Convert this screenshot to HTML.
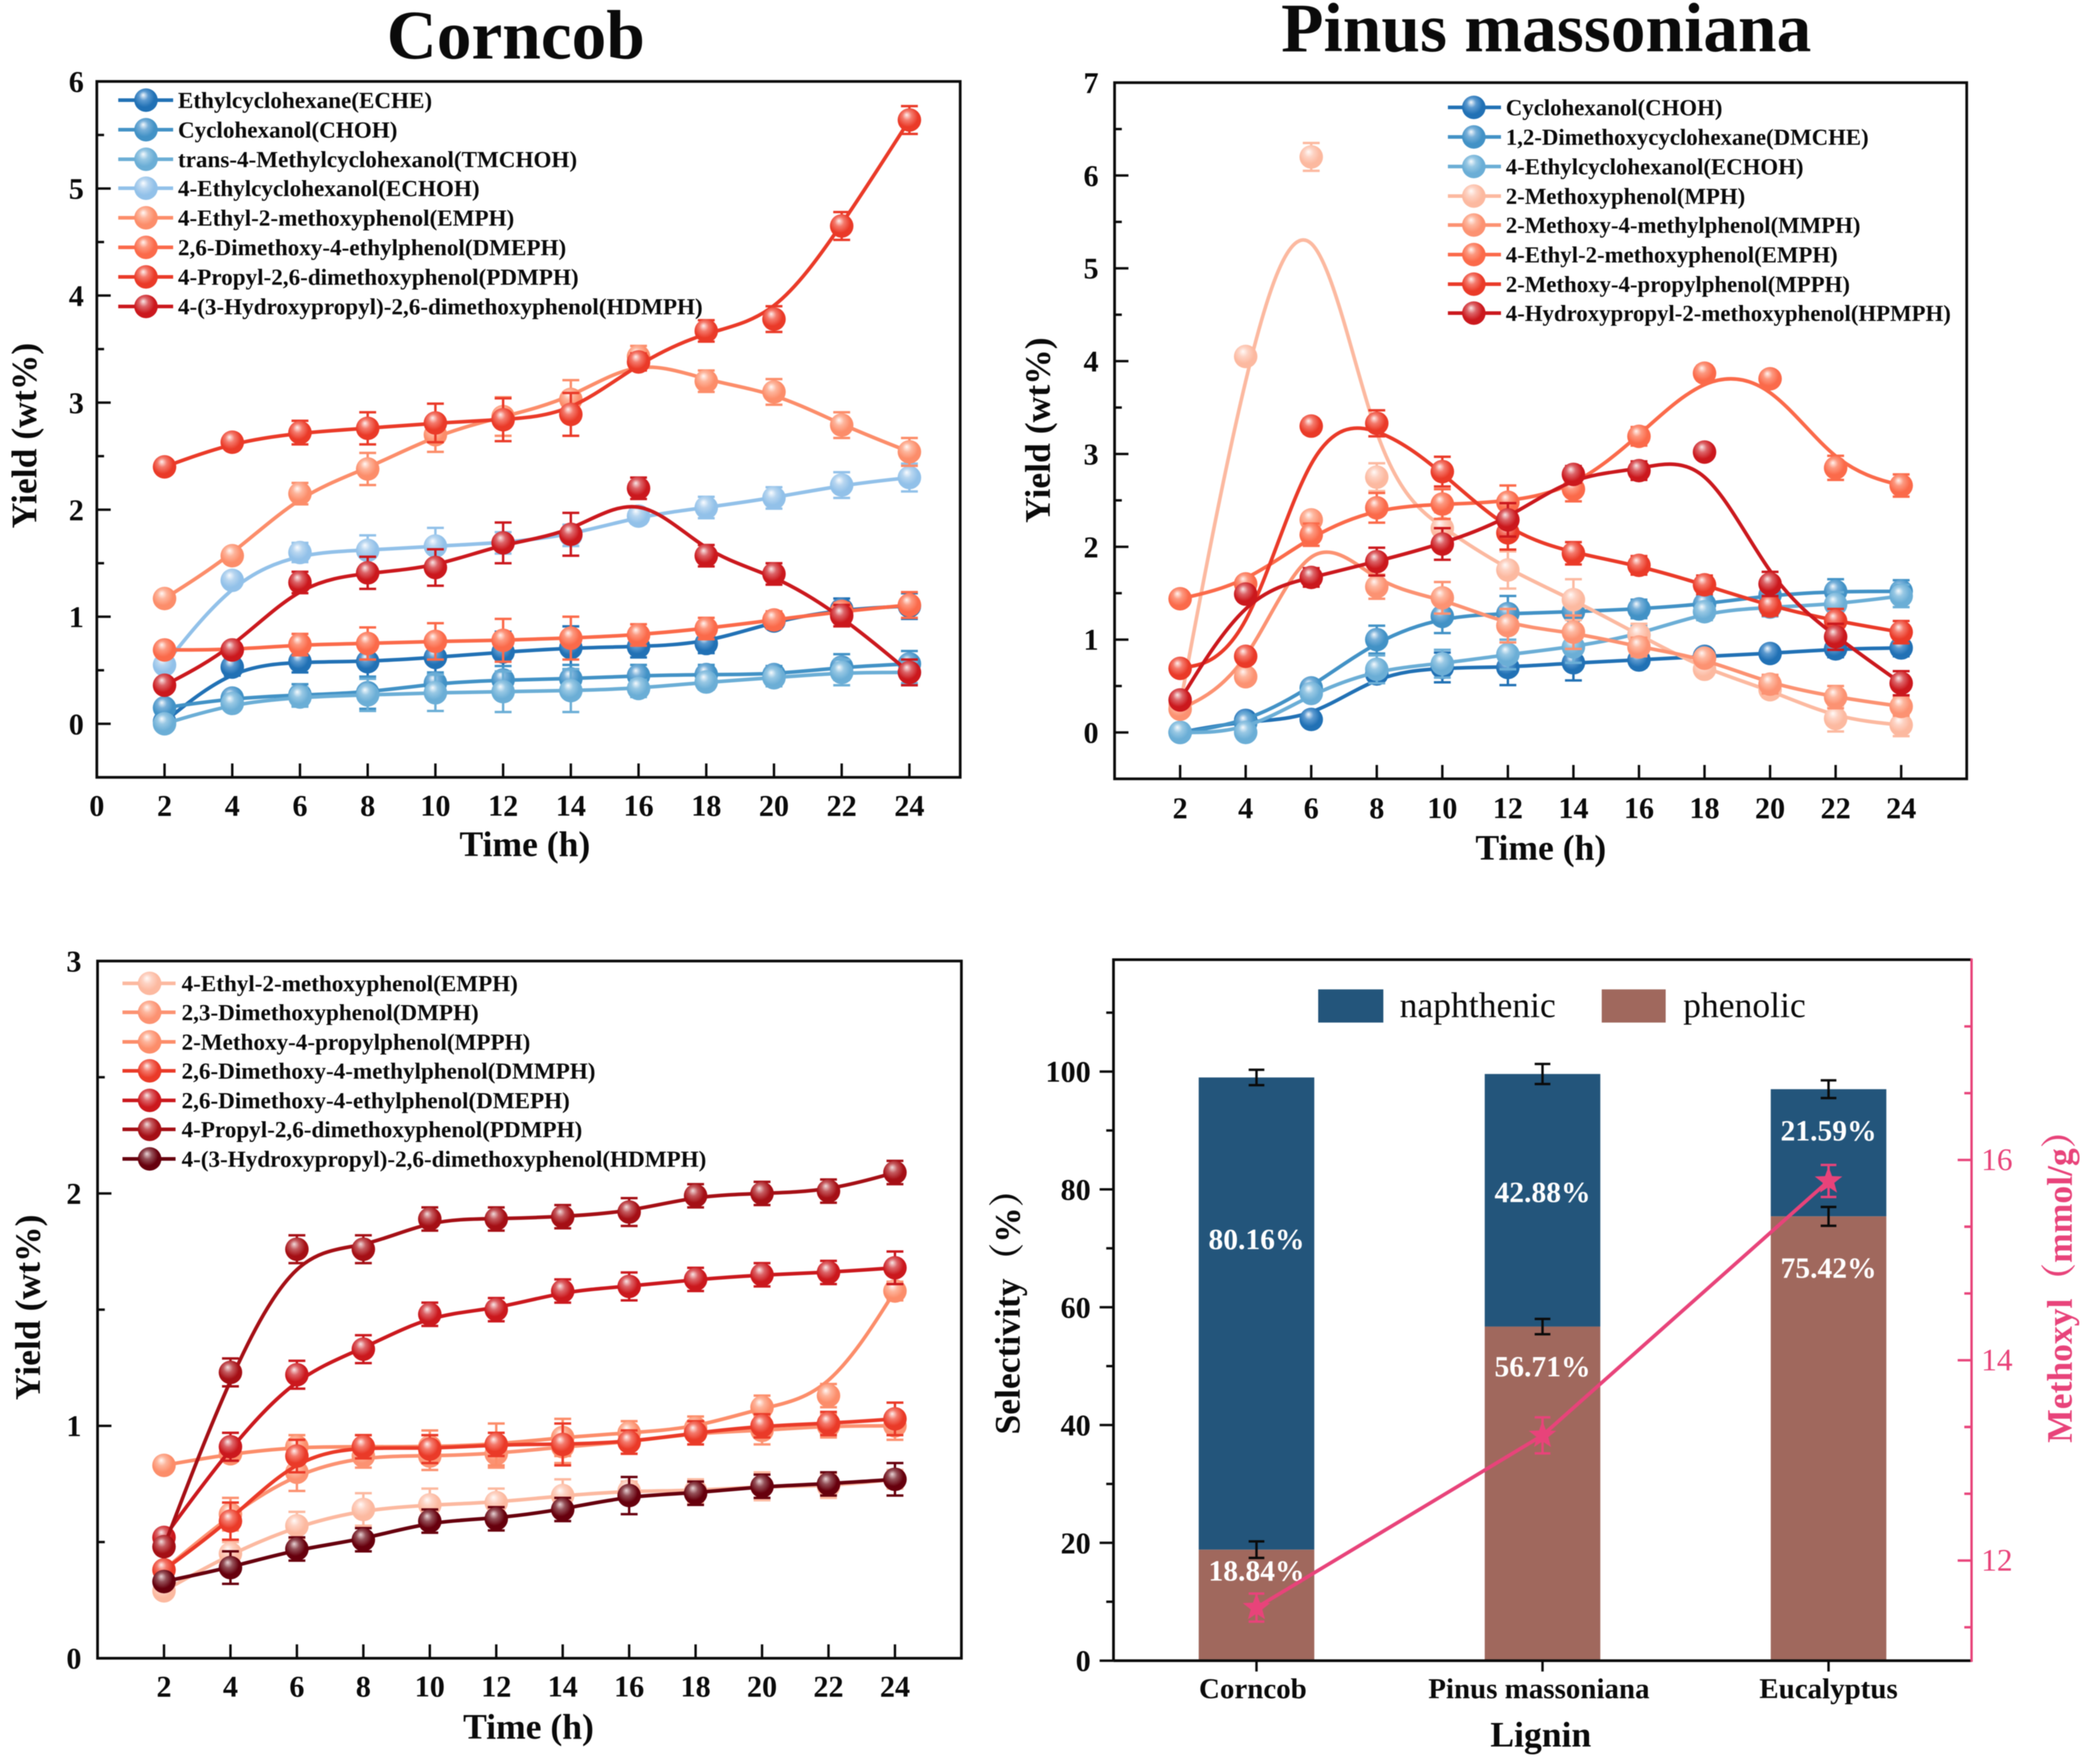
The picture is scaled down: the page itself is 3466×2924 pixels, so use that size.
<!DOCTYPE html>
<html lang="en">
<head>
<meta charset="utf-8">
<title>Lignin depolymerization yields and selectivity</title>
<style>
html,body{margin:0;padding:0;background:#fff;}
svg{display:block;filter:blur(0.7px);}
text{font-family:"Liberation Serif","Noto Serif CJK SC",serif;fill:#0a0a0a;}
.b{font-weight:bold;}
.leg{font-weight:bold;font-size:38px;}
.la .leg{font-size:38.3px;}
.lb .leg{font-size:37.8px;}
.title{font-weight:bold;font-size:115px;text-anchor:middle;}
.axt{font-weight:bold;font-size:59px;text-anchor:middle;}
</style>
</head>
<body>
<svg id="fig" xmlns="http://www.w3.org/2000/svg" width="3466" height="2924" viewBox="0 0 3466 2924">
<defs>
<radialGradient id="g1" cx=".45" cy=".4" r=".62" fx=".38" fy=".28"><stop offset="0" stop-color="#f4f8fc"/><stop offset=".32" stop-color="#5c9ad0"/><stop offset=".7" stop-color="#2171b5"/></radialGradient>
<radialGradient id="g2" cx=".45" cy=".4" r=".62" fx=".38" fy=".28"><stop offset="0" stop-color="#f4f8fc"/><stop offset=".32" stop-color="#78b0d9"/><stop offset=".7" stop-color="#4292c6"/></radialGradient>
<radialGradient id="g3" cx=".45" cy=".4" r=".62" fx=".38" fy=".28"><stop offset="0" stop-color="#f6fafd"/><stop offset=".32" stop-color="#98c8e4"/><stop offset=".7" stop-color="#6baed6"/></radialGradient>
<radialGradient id="g4" cx=".45" cy=".4" r=".62" fx=".38" fy=".28"><stop offset="0" stop-color="#fafcff"/><stop offset=".32" stop-color="#b8d6f0"/><stop offset=".7" stop-color="#92c1e9"/></radialGradient>
<radialGradient id="g5" cx=".45" cy=".4" r=".62" fx=".38" fy=".28"><stop offset="0" stop-color="#fff8f5"/><stop offset=".32" stop-color="#fdb59c"/><stop offset=".7" stop-color="#fc8d6a"/></radialGradient>
<radialGradient id="g6" cx=".45" cy=".4" r=".62" fx=".38" fy=".28"><stop offset="0" stop-color="#fff4f0"/><stop offset=".32" stop-color="#fc987f"/><stop offset=".7" stop-color="#fb6a4a"/></radialGradient>
<radialGradient id="g7" cx=".45" cy=".4" r=".62" fx=".38" fy=".28"><stop offset="0" stop-color="#fdf0ee"/><stop offset=".32" stop-color="#f47a6c"/><stop offset=".7" stop-color="#ea3a28"/></radialGradient>
<radialGradient id="g8" cx=".45" cy=".4" r=".62" fx=".38" fy=".28"><stop offset="0" stop-color="#f8e8e8"/><stop offset=".32" stop-color="#dc6468"/><stop offset=".7" stop-color="#cb181d"/></radialGradient>
<radialGradient id="g9" cx=".45" cy=".4" r=".62" fx=".38" fy=".28"><stop offset="0" stop-color="#fffaf8"/><stop offset=".32" stop-color="#fdd3c4"/><stop offset=".7" stop-color="#fcb9a0"/></radialGradient>
<radialGradient id="g10" cx=".45" cy=".4" r=".62" fx=".38" fy=".28"><stop offset="0" stop-color="#fff6f3"/><stop offset=".32" stop-color="#fdb8a0"/><stop offset=".7" stop-color="#fc9272"/></radialGradient>
<radialGradient id="g12" cx=".45" cy=".4" r=".62" fx=".38" fy=".28"><stop offset="0" stop-color="#f0dcdc"/><stop offset=".32" stop-color="#c45a5e"/><stop offset=".7" stop-color="#a50f15"/></radialGradient>
<radialGradient id="g13" cx=".45" cy=".4" r=".62" fx=".38" fy=".28"><stop offset="0" stop-color="#e8d4d6"/><stop offset=".32" stop-color="#945058"/><stop offset=".7" stop-color="#67000d"/></radialGradient>
</defs>

<g id="panelA"></g>
<g id="panelB"></g>
<g id="panelC"></g>
<g id="panelD"></g>

<text class="title" x="855" y="97">Corncob</text>
<text class="title" x="2563" y="85">Pinus massoniana</text>

<text class="axt" x="870" y="1419">Time (h)</text>
<text class="axt" transform="translate(60 722) rotate(-90)">Yield (wt%)</text>
<text class="axt" x="2554" y="1425">Time (h)</text>
<text class="axt" transform="translate(1740 713) rotate(-90)">Yield (wt%)</text>
<text class="axt" x="876" y="2882">Time (h)</text>
<text class="axt" transform="translate(66 2167) rotate(-90)">Yield (wt%)</text>
<text class="axt" x="2554" y="2895">Lignin</text>
<text class="axt" style="word-spacing:-14.75px" transform="translate(1690 2160) rotate(-90)">Selectivity （%）</text>
<text class="axt" style="fill:#e8437a" transform="translate(3434 2118) rotate(-90)">Methoxyl（mmol/g）</text>

<g class="la">
<g><line x1="196" x2="287" y1="166" y2="166" stroke="#2171b5" stroke-width="6"/><circle cx="242" cy="166" r="19.5" fill="url(#g1)"/><text class="leg" x="295" y="179">Ethylcyclohexane(ECHE)</text></g>
<g><line x1="196" x2="287" y1="215" y2="215" stroke="#4292c6" stroke-width="6"/><circle cx="242" cy="215" r="19.5" fill="url(#g2)"/><text class="leg" x="295" y="228">Cyclohexanol(CHOH)</text></g>
<g><line x1="196" x2="287" y1="264" y2="264" stroke="#6baed6" stroke-width="6"/><circle cx="242" cy="264" r="19.5" fill="url(#g3)"/><text class="leg" x="295" y="277">trans-4-Methylcyclohexanol(TMCHOH)</text></g>
<g><line x1="196" x2="287" y1="312" y2="312" stroke="#92c1e9" stroke-width="6"/><circle cx="242" cy="312" r="19.5" fill="url(#g4)"/><text class="leg" x="295" y="325">4-Ethylcyclohexanol(ECHOH)</text></g>
<g><line x1="196" x2="287" y1="361" y2="361" stroke="#fc8d6a" stroke-width="6"/><circle cx="242" cy="361" r="19.5" fill="url(#g5)"/><text class="leg" x="295" y="374">4-Ethyl-2-methoxyphenol(EMPH)</text></g>
<g><line x1="196" x2="287" y1="410" y2="410" stroke="#fb6a4a" stroke-width="6"/><circle cx="242" cy="410" r="19.5" fill="url(#g6)"/><text class="leg" x="295" y="423">2,6-Dimethoxy-4-ethylphenol(DMEPH)</text></g>
<g><line x1="196" x2="287" y1="459" y2="459" stroke="#ea3a28" stroke-width="6"/><circle cx="242" cy="459" r="19.5" fill="url(#g7)"/><text class="leg" x="295" y="472">4-Propyl-2,6-dimethoxyphenol(PDMPH)</text></g>
<g><line x1="196" x2="287" y1="508" y2="508" stroke="#cb181d" stroke-width="6"/><circle cx="242" cy="508" r="19.5" fill="url(#g8)"/><text class="leg" x="295" y="521">4-(3-Hydroxypropyl)-2,6-dimethoxyphenol(HDMPH)</text></g>
</g>

<g class="lb">
<g><line x1="2400" x2="2488" y1="178" y2="178" stroke="#2171b5" stroke-width="6"/><circle cx="2443" cy="178" r="19.5" fill="url(#g1)"/><text class="leg" x="2496" y="191">Cyclohexanol(CHOH)</text></g>
<g><line x1="2400" x2="2488" y1="227" y2="227" stroke="#4292c6" stroke-width="6"/><circle cx="2443" cy="227" r="19.5" fill="url(#g2)"/><text class="leg" x="2496" y="240">1,2-Dimethoxycyclohexane(DMCHE)</text></g>
<g><line x1="2400" x2="2488" y1="276" y2="276" stroke="#6baed6" stroke-width="6"/><circle cx="2443" cy="276" r="19.5" fill="url(#g3)"/><text class="leg" x="2496" y="289">4-Ethylcyclohexanol(ECHOH)</text></g>
<g><line x1="2400" x2="2488" y1="325" y2="325" stroke="#fcb9a0" stroke-width="6"/><circle cx="2443" cy="325" r="19.5" fill="url(#g9)"/><text class="leg" x="2496" y="338">2-Methoxyphenol(MPH)</text></g>
<g><line x1="2400" x2="2488" y1="373" y2="373" stroke="#fc9272" stroke-width="6"/><circle cx="2443" cy="373" r="19.5" fill="url(#g10)"/><text class="leg" x="2496" y="386">2-Methoxy-4-methylphenol(MMPH)</text></g>
<g><line x1="2400" x2="2488" y1="422" y2="422" stroke="#fb6a4a" stroke-width="6"/><circle cx="2443" cy="422" r="19.5" fill="url(#g6)"/><text class="leg" x="2496" y="435">4-Ethyl-2-methoxyphenol(EMPH)</text></g>
<g><line x1="2400" x2="2488" y1="471" y2="471" stroke="#ea3a28" stroke-width="6"/><circle cx="2443" cy="471" r="19.5" fill="url(#g7)"/><text class="leg" x="2496" y="484">2-Methoxy-4-propylphenol(MPPH)</text></g>
<g><line x1="2400" x2="2488" y1="519" y2="519" stroke="#cb181d" stroke-width="6"/><circle cx="2443" cy="519" r="19.5" fill="url(#g8)"/><text class="leg" x="2496" y="532">4-Hydroxypropyl-2-methoxyphenol(HPMPH)</text></g>
</g>

<g class="la">
<g><line x1="203" x2="291" y1="1630" y2="1630" stroke="#fcb9a0" stroke-width="6"/><circle cx="248" cy="1630" r="19.5" fill="url(#g9)"/><text class="leg" x="301" y="1643">4-Ethyl-2-methoxyphenol(EMPH)</text></g>
<g><line x1="203" x2="291" y1="1678" y2="1678" stroke="#fc9272" stroke-width="6"/><circle cx="248" cy="1678" r="19.5" fill="url(#g10)"/><text class="leg" x="301" y="1691">2,3-Dimethoxyphenol(DMPH)</text></g>
<g><line x1="203" x2="291" y1="1727" y2="1727" stroke="#fc8d6a" stroke-width="6"/><circle cx="248" cy="1727" r="19.5" fill="url(#g5)"/><text class="leg" x="301" y="1740">2-Methoxy-4-propylphenol(MPPH)</text></g>
<g><line x1="203" x2="291" y1="1775" y2="1775" stroke="#ea3a28" stroke-width="6"/><circle cx="248" cy="1775" r="19.5" fill="url(#g7)"/><text class="leg" x="301" y="1788">2,6-Dimethoxy-4-methylphenol(DMMPH)</text></g>
<g><line x1="203" x2="291" y1="1824" y2="1824" stroke="#cb181d" stroke-width="6"/><circle cx="248" cy="1824" r="19.5" fill="url(#g8)"/><text class="leg" x="301" y="1837">2,6-Dimethoxy-4-ethylphenol(DMEPH)</text></g>
<g><line x1="203" x2="291" y1="1872" y2="1872" stroke="#a50f15" stroke-width="6"/><circle cx="248" cy="1872" r="19.5" fill="url(#g12)"/><text class="leg" x="301" y="1885">4-Propyl-2,6-dimethoxyphenol(PDMPH)</text></g>
<g><line x1="203" x2="291" y1="1921" y2="1921" stroke="#67000d" stroke-width="6"/><circle cx="248" cy="1921" r="19.5" fill="url(#g13)"/><text class="leg" x="301" y="1934">4-(3-Hydroxypropyl)-2,6-dimethoxyphenol(HDMPH)</text></g>
</g>

<g>
<g><rect x="2185" y="1640" width="108" height="55" fill="#23557b"/><text x="2320" y="1686" font-size="59">naphthenic</text></g>
<g><rect x="2655" y="1640" width="106" height="55" fill="#a0685d"/><text x="2790" y="1686" font-size="59">phenolic</text></g>
</g>

<script>
// ---------- shared time axis ----------
const timeHours = [2,4,6,8,10,12,14,16,18,20,22,24];

// ---------- corncob ----------
const corncobXTicks = [0,2,4,6,8,10,12,14,16,18,20,22,24];
const corncobYTicks = [0,1,2,3,4,5,6];
const corncobEche = [.02,.53,.58,.58,.62,.67,.71,.72,.75,.96,1.07,1.10];
const corncobEcheErr = [.03,.08,.1,.14,.16,.19,.2,.1,.09,.05,.1,.12];
const corncobChoh = [.15,.24,.27,.29,.38,.41,.42,.45,.46,.46,.53,.56];
const corncobChohErr = [.04,.06,.1,.15,.1,.13,.13,.1,.09,.08,.12,.12];
const corncobTmchoh = [0,.19,.25,.27,.29,.30,.31,.33,.39,.43,.48,.48];
const corncobTmchohErr = [.03,.05,.09,.15,.17,.19,.2,.08,.07,.08,.12,.1];
const corncobEchoh = [.55,1.34,1.60,1.62,1.66,1.69,1.76,1.94,2.02,2.11,2.23,2.30];
const corncobEchohErr = [.03,.04,.09,.14,.17,.1,.1,.07,.1,.1,.12,.13];
const corncobEmph = [1.17,1.57,2.15,2.38,2.70,2.87,3.03,3.43,3.20,3.10,2.79,2.54];
const corncobEmphErr = [.04,.05,.1,.15,.16,.18,.18,.1,.1,.12,.12,.13];
const corncobDmeph = [.69,.69,.74,.75,.77,.78,.80,.83,.89,.97,1.05,1.11];
const corncobDmephErr = [.03,.04,.1,.15,.17,.2,.2,.1,.1,.08,.08,.12];
const corncobPdmph = [2.40,2.63,2.72,2.76,2.81,2.84,2.89,3.38,3.67,3.78,4.65,5.64];
const corncobPdmphErr = [.03,.03,.11,.15,.18,.2,.2,.08,.1,.12,.13,.13];
const corncobHdmph = [.36,.69,1.32,1.41,1.46,1.69,1.77,2.20,1.57,1.40,1.01,.48];
const corncobHdmphErr = [.03,.04,.1,.15,.17,.19,.2,.1,.1,.1,.1,.12];

// ---------- pinus massoniana ----------
const pinusXTicks = [2,4,6,8,10,12,14,16,18,20,22,24];
const pinusYTicks = [0,1,2,3,4,5,6,7];
const pinusChoh = [0,.13,.14,.63,.70,.70,.75,.78,.82,.85,.90,.91];
const pinusChohErr = [.02,.03,.03,.07,.16,.19,.19,.08,.05,.07,.09,.09];
const pinusDmche = [0,.10,.48,1.0,1.25,1.28,1.30,1.33,1.38,1.48,1.52,1.52];
const pinusDmcheErr = [.02,.03,.07,.15,.18,.19,.2,.1,.09,.1,.13,.12];
const pinusEchoh = [0,0,.42,.68,.74,.84,.92,1.05,1.30,1.35,1.38,1.47];
const pinusEchohErr = [.02,.03,.07,.15,.15,.16,.17,.1,.09,.1,.13,.12];
const pinusMph = [.3,4.05,6.2,2.75,2.2,1.75,1.43,1.05,.68,.46,.15,.08];
const pinusMphErr = [.02,.03,.15,.15,.17,.2,.22,.12,.06,.08,.14,.12];
const pinusMmph = [.25,.60,2.29,1.57,1.45,1.15,1.08,.92,.80,.52,.38,.28];
const pinusMmphErr = [.02,.03,.04,.13,.17,.18,.18,.1,.07,.1,.12,.1];
const pinusEmph = [1.44,1.60,2.13,2.42,2.46,2.48,2.62,3.19,3.87,3.81,2.85,2.66];
const pinusEmphErr = [.04,.04,.12,.16,.16,.18,.13,.1,.08,.07,.13,.12];
const pinusMpph = [.69,.82,3.30,3.33,2.81,2.15,1.93,1.80,1.59,1.36,1.20,1.08];
const pinusMpphErr = [.03,.04,.08,.14,.16,.18,.12,.1,.1,.1,.13,.12];
const pinusHpmph = [.35,1.49,1.67,1.84,2.03,2.29,2.78,2.82,3.02,1.60,1.03,.53];
const pinusHpmphErr = [.03,.06,.1,.15,.17,.18,.09,.1,.03,.13,.14,.13];

// ---------- third feedstock, lower-left panel ----------
const lowerXTicks = [2,4,6,8,10,12,14,16,18,20,22,24];
const lowerYTicks = [0,1,2,3];
const lowerEmph = [.29,.45,.57,.64,.66,.67,.70,.72,.72,.74,.74,.77];
const lowerEmphErr = [.02,.05,.06,.07,.07,.06,.07,.04,.05,.06,.05,.04];
const lowerDmph = [.38,.62,.80,.87,.87,.88,.91,.93,.97,.98,1.00,1.00];
const lowerDmphErr = [.02,.07,.08,.05,.06,.06,.07,.05,.05,.06,.05,.06];
const lowerMpph = [.83,.88,.91,.91,.91,.92,.95,.97,.99,1.08,1.13,1.58];
const lowerMpphErr = [.02,.03,.05,.05,.07,.09,.08,.05,.05,.05,.05,.04];
const lowerDmmph = [.38,.59,.87,.91,.90,.92,.92,.93,.97,1.00,1.01,1.03];
const lowerDmmphErr = [.02,.08,.07,.05,.06,.05,.09,.05,.05,.05,.05,.07];
const lowerDmeph = [.52,.91,1.22,1.33,1.48,1.50,1.58,1.60,1.63,1.65,1.66,1.68];
const lowerDmephErr = [.02,.06,.06,.06,.05,.05,.05,.06,.05,.05,.05,.07];
const lowerPdmph = [.48,1.23,1.76,1.76,1.89,1.89,1.90,1.92,1.99,2.00,2.01,2.09];
const lowerPdmphErr = [.02,.06,.06,.06,.05,.05,.05,.06,.05,.05,.05,.05];
const lowerHdmph = [.33,.39,.47,.51,.59,.60,.64,.70,.71,.74,.75,.77];
const lowerHdmphErr = [.02,.07,.05,.05,.05,.05,.05,.08,.05,.05,.05,.07];

// ---------- selectivity / methoxyl ----------
const ligninCategories = ['Corncob','Pinus massoniana','Eucalyptus'];
const selectivityYTicks = [0,20,40,60,80,100];
const methoxylYTicks = [12,14,16];
const phenolicValues = [18.84,56.71,75.42];
const naphthenicValues = [80.16,42.88,21.59];
const phenolicErr = [1.4,1.3,1.6];
const totalErr = [1.3,1.7,1.5];
const methoxylValues = [11.53,13.25,15.79];
const methoxylErr = [.14,.18,.16];

const NS = 'http://www.w3.org/2000/svg';
function make(parent, tag, attrs, txt){
  const e = document.createElementNS(NS, tag);
  for (const k in attrs) e.setAttribute(k, attrs[k]);
  if (txt !== undefined) e.textContent = txt;
  parent.appendChild(e);
  return e;
}
function linear(d0, d1, r0, r1){ return v => r0 + (v - d0) / (d1 - d0) * (r1 - r0); }

// Origin-style B-spline: data values act as control points, ends clamped
function bspline(pts){
  const p = [pts[0], pts[0]].concat(pts, [pts[pts.length-1], pts[pts.length-1]]);
  let d = 'M' + pts[0][0].toFixed(1) + ' ' + pts[0][1].toFixed(1);
  for (let i = 1; i < p.length - 2; i++){
    const a = p[i], b = p[i+1], c = p[i+2];
    const x1 = (2*a[0]+b[0])/3, y1 = (2*a[1]+b[1])/3;
    const x2 = (a[0]+2*b[0])/3, y2 = (a[1]+2*b[1])/3;
    const x3 = (b[0]*4+a[0]+c[0])/6, y3 = (b[1]*4+a[1]+c[1])/6;
    d += 'C' + [x1,y1,x2,y2,x3,y3].map(n => n.toFixed(1)).join(' ');
  }
  return d;
}

function drawFrame(root, box, xs, ys, xTicks, yTicks, labelRight, xLabelBase, prefix){
  const axes = make(root, 'g', {});
  
  
  const frame = make(axes, 'rect', {x:box.l, y:box.t, width:box.r-box.l, height:box.b-box.t, fill:'none', stroke:'#0a0a0a', 'stroke-width':4.5});
  
  
  xTicks.forEach(v => {
    make(axes, 'line', {x1:xs(v), x2:xs(v), y1:box.b, y2:box.b-23, stroke:'#0a0a0a', 'stroke-width':4});
    const t = make(axes, 'text', {x:xs(v), y:xLabelBase, 'text-anchor':'middle', 'font-size':50, 'font-weight':'bold'}, String(v));
    
    
  });
  yTicks.forEach((v, i) => {
    make(axes, 'line', {x1:box.l, x2:box.l+23, y1:ys(v), y2:ys(v), stroke:'#0a0a0a', 'stroke-width':4});
    const t = make(axes, 'text', {x:labelRight, y:ys(v)+17, 'text-anchor':'end', 'font-size':50, 'font-weight':'bold'}, String(v));
    
    
    if (i < yTicks.length - 1){
      const m = (v + yTicks[i+1]) / 2;
      make(axes, 'line', {x1:box.l, x2:box.l+12, y1:ys(m), y2:ys(m), stroke:'#0a0a0a', 'stroke-width':4});
    }
  });
}

function drawSeries(root, xs, ys, s, prefix){
  const g = make(root, 'g', {});
  
  
  const pts = timeHours.map((t, i) => [xs(t), ys(s.values[i])]);
  const path = make(g, 'path', {d:bspline(pts), fill:'none', stroke:s.color, 'stroke-width':6, 'stroke-linejoin':'round'});
  
  
  timeHours.forEach((t, i) => {
    const x = xs(t), hi = ys(s.values[i] + s.errors[i]), lo = ys(s.values[i] - s.errors[i]);
    make(g, 'path', {d:'M'+x+' '+hi+'V'+lo+'M'+(x-14)+' '+hi+'H'+(x+14)+'M'+(x-14)+' '+lo+'H'+(x+14), fill:'none', stroke:s.color, 'stroke-width':4});
  });
  timeHours.forEach((t, i) => {
    const c = make(g, 'circle', {cx:xs(t), cy:ys(s.values[i]), r:19.5, fill:'url(#'+s.grad+')'});
    
    
  });
}

function drawPanel(id, box, xDom, yDom, xTicks, yTicks, labelRight, xLabelBase, series, prefix){
  const root = document.getElementById(id);
  const xs = linear(xDom[0], xDom[1], box.l, box.r);
  const ys = linear(yDom[0], yDom[1], box.b, box.t);
  drawFrame(root, box, xs, ys, xTicks, yTicks, labelRight, xLabelBase, prefix);
  series.forEach(s => drawSeries(root, xs, ys, s, prefix));
}

drawPanel('panelA', {l:160.5, r:1591.6, t:135, b:1288.5}, [0,25.5], [-.5,6], corncobXTicks, corncobYTicks, 139, 1352, [
  {key:'eche', values:corncobEche, errors:corncobEcheErr, color:'#2171b5', grad:'g1'},
  {key:'choh', values:corncobChoh, errors:corncobChohErr, color:'#4292c6', grad:'g2'},
  {key:'tmchoh', values:corncobTmchoh, errors:corncobTmchohErr, color:'#6baed6', grad:'g3'},
  {key:'echoh', values:corncobEchoh, errors:corncobEchohErr, color:'#92c1e9', grad:'g4'},
  {key:'emph', values:corncobEmph, errors:corncobEmphErr, color:'#fc8d6a', grad:'g5'},
  {key:'dmeph', values:corncobDmeph, errors:corncobDmephErr, color:'#fb6a4a', grad:'g6'},
  {key:'pdmph', values:corncobPdmph, errors:corncobPdmphErr, color:'#ea3a28', grad:'g7'},
  {key:'hdmph', values:corncobHdmph, errors:corncobHdmphErr, color:'#cb181d', grad:'g8'}
], 'corncob');

drawPanel('panelB', {l:1847.5, r:3260, t:137, b:1291}, [0,26], [-.5,7], pinusXTicks, pinusYTicks, 1821, 1356, [
  {key:'choh', values:pinusChoh, errors:pinusChohErr, color:'#2171b5', grad:'g1'},
  {key:'dmche', values:pinusDmche, errors:pinusDmcheErr, color:'#4292c6', grad:'g2'},
  {key:'echoh', values:pinusEchoh, errors:pinusEchohErr, color:'#6baed6', grad:'g3'},
  {key:'mph', values:pinusMph, errors:pinusMphErr, color:'#fcb9a0', grad:'g9'},
  {key:'mmph', values:pinusMmph, errors:pinusMmphErr, color:'#fc9272', grad:'g10'},
  {key:'emph', values:pinusEmph, errors:pinusEmphErr, color:'#fb6a4a', grad:'g6'},
  {key:'mpph', values:pinusMpph, errors:pinusMpphErr, color:'#ea3a28', grad:'g7'},
  {key:'hpmph', values:pinusHpmph, errors:pinusHpmphErr, color:'#cb181d', grad:'g8'}
], 'pinus');

drawPanel('panelC', {l:161.7, r:1593.6, t:1593, b:2748.7}, [0,26], [0,3], lowerXTicks, lowerYTicks, 135, 2812, [
  {key:'emph', values:lowerEmph, errors:lowerEmphErr, color:'#fcb9a0', grad:'g9'},
  {key:'dmph', values:lowerDmph, errors:lowerDmphErr, color:'#fc9272', grad:'g10'},
  {key:'mpph', values:lowerMpph, errors:lowerMpphErr, color:'#fc8d6a', grad:'g5'},
  {key:'dmmph', values:lowerDmmph, errors:lowerDmmphErr, color:'#ea3a28', grad:'g7'},
  {key:'dmeph', values:lowerDmeph, errors:lowerDmephErr, color:'#cb181d', grad:'g8'},
  {key:'pdmph', values:lowerPdmph, errors:lowerPdmphErr, color:'#a50f15', grad:'g12'},
  {key:'hdmph', values:lowerHdmph, errors:lowerHdmphErr, color:'#67000d', grad:'g13'}
], 'lower');

// ---------- panel D ----------
(function(){
  const root = document.getElementById('panelD');
  const box = {l:1845.7, r:3268, t:1590.7, b:2752.7};
  const xs = linear(.5, 3.5, box.l, box.r);
  const ys = linear(0, 119, box.b, box.t);
  const yr = linear(11, 18, box.b, box.t);
  const barW = 191.6, PINK = '#e8437a';
  const naphLabelDrop = [27.8, 20.4, 7.4];
  const phenLabelDrop = [3.9, 7.1, 9.1];
  const categoryLabelShift = [-6, -6, 0];

  ligninCategories.forEach((name, i) => {
    const x = xs(i + 1), p = phenolicValues[i], total = p + naphthenicValues[i];
    const top = make(root, 'rect', {x:x-barW/2, y:ys(total), width:barW, height:ys(p)-ys(total), fill:'#23557b'});
    
    
    const bot = make(root, 'rect', {x:x-barW/2, y:ys(p), width:barW, height:ys(0)-ys(p), fill:'#a0685d'});
    
    
  });
  ligninCategories.forEach((name, i) => {
    const x = xs(i + 1), p = phenolicValues[i], total = p + naphthenicValues[i];
    [[total, totalErr[i]], [p, phenolicErr[i]]].forEach(e => {
      const hi = ys(e[0]+e[1]), lo = ys(e[0]-e[1]);
      const eb = make(root, 'path', {d:'M'+x+' '+hi+'V'+lo+'M'+(x-13)+' '+hi+'H'+(x+13)+'M'+(x-13)+' '+lo+'H'+(x+13), fill:'none', stroke:'#0a0a0a', 'stroke-width':4});
      
      
    });
    const t1 = make(root, 'text', {x:x, y:ys(total-naphLabelDrop[i])+13, 'text-anchor':'middle', 'font-size':49, 'font-weight':'bold', style:'fill:#fff'}, naphthenicValues[i].toFixed(2)+'%');
    
    
    const t2 = make(root, 'text', {x:x, y:ys(p-phenLabelDrop[i])+13, 'text-anchor':'middle', 'font-size':49, 'font-weight':'bold', style:'fill:#fff'}, p.toFixed(2)+'%');
    
    
  });

  // axes
  make(root, 'path', {d:'M'+box.l+' '+box.b+'V'+box.t+'H'+box.r, fill:'none', stroke:'#0a0a0a', 'stroke-width':4.5});
  make(root, 'line', {x1:box.l, x2:box.r, y1:box.b, y2:box.b, stroke:'#0a0a0a', 'stroke-width':4.5});
  make(root, 'line', {x1:box.r, x2:box.r, y1:box.t-2, y2:box.b+2, stroke:PINK, 'stroke-width':4});
  selectivityYTicks.forEach(v => {
    make(root, 'line', {x1:box.l-23, x2:box.l, y1:ys(v), y2:ys(v), stroke:'#0a0a0a', 'stroke-width':4});
    const t = make(root, 'text', {x:1808, y:ys(v)+17, 'text-anchor':'end', 'font-size':50, 'font-weight':'bold'}, String(v));
    
    
    make(root, 'line', {x1:box.l-12, x2:box.l, y1:ys(v+10), y2:ys(v+10), stroke:'#0a0a0a', 'stroke-width':4});
  });
  methoxylYTicks.forEach(v => {
    make(root, 'line', {x1:box.r-23, x2:box.r, y1:yr(v), y2:yr(v), stroke:PINK, 'stroke-width':4});
    const t = make(root, 'text', {x:3284, y:yr(v)+17, 'font-size':52, style:'fill:'+PINK}, String(v));
    
    
    [-2/3, 2/3, 4/3].forEach(d => {
      if (v + d > 18 || v + d < 11) return;
      make(root, 'line', {x1:box.r-12, x2:box.r, y1:yr(v+d), y2:yr(v+d), stroke:PINK, 'stroke-width':4});
    });
  });
  ligninCategories.forEach((name, i) => {
    const x = xs(i + 1);
    make(root, 'line', {x1:x, x2:x, y1:box.b, y2:box.b+18, stroke:'#0a0a0a', 'stroke-width':4});
    const t = make(root, 'text', {x:x+categoryLabelShift[i], y:2815, 'text-anchor':'middle', 'font-size':48, 'font-weight':'bold'}, name);
    
    
  });

  // methoxyl line
  const linePts = methoxylValues.map((v, i) => xs(i+1).toFixed(1) + ',' + yr(v).toFixed(1)).join(' ');
  const line = make(root, 'polyline', {points:linePts, fill:'none', stroke:PINK, 'stroke-width':6});
  
  
  methoxylValues.forEach((v, i) => {
    const x = xs(i+1), y = yr(v), hi = yr(v+methoxylErr[i]), lo = yr(v-methoxylErr[i]);
    const eb = make(root, 'path', {d:'M'+x+' '+hi+'V'+lo+'M'+(x-13)+' '+hi+'H'+(x+13)+'M'+(x-13)+' '+lo+'H'+(x+13), fill:'none', stroke:PINK, 'stroke-width':4});
    
    
    let pts = '';
    for (let k = 0; k < 10; k++){
      const rad = k % 2 ? 10 : 24, a = -Math.PI/2 + k*Math.PI/5;
      pts += (x + rad*Math.cos(a)).toFixed(1) + ',' + (y + rad*Math.sin(a)).toFixed(1) + ' ';
    }
    const star = make(root, 'polygon', {points:pts, fill:PINK});
    
    
  });
})();
</script>
</svg>
</body>
</html>
